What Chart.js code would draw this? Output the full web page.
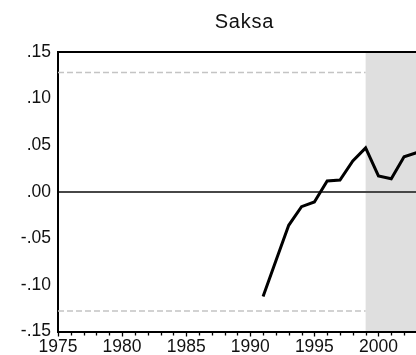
<!DOCTYPE html>
<html><head><meta charset="utf-8">
<script src="https://cdn.jsdelivr.net/npm/chart.js@4.4.0/dist/chart.umd.min.js"></script>
<style>
html,body{margin:0;padding:0;background:#fff;overflow:hidden;}
#wrap{position:relative;width:416px;height:355px;overflow:hidden;}
#title{position:absolute;left:0;top:10px;width:489px;text-align:center;font:20px 'Liberation Sans',Arial,sans-serif;letter-spacing:0.8px;color:#111;}
canvas{display:block}
</style></head><body>
<div id="wrap"><canvas id="c" width="416" height="355"></canvas><div id="title">Saksa</div></div>
<script>
// ---- data ----
const years  = [1991, 1992, 1993, 1994, 1995, 1996, 1997, 1998, 1999, 2000, 2001, 2002, 2003];
const values = [-0.1125, -0.074, -0.036, -0.016, -0.011, 0.0115, 0.0125, 0.033, 0.047, 0.017, 0.014, 0.0375, 0.042];
const bandYears  = [1975, 1999];
const upperBand  = [0.128, 0.128];
const lowerBand  = [-0.128, -0.128];
const shadeStart = 1999;
const xTickYears = [1975, 1980, 1985, 1990, 1995, 2000];
const yTicks      = [-0.15, -0.10, -0.05, 0, 0.05, 0.10, 0.15];
const yTickLabels = ['-.15', '-.10', '-.05', '.00', '.05', '.10', '.15'];
const xMin = 1975, xMax = 2002.93;

const tickFont = {family: "'Liberation Sans Narrow','Liberation Sans',Arial,sans-serif", size: 17.5};

const decor = {
  id: 'decor',
  beforeDraw(chart) {
    const {ctx, chartArea: a, scales: {x}} = chart;
    ctx.save();
    ctx.fillStyle = '#fff';
    ctx.fillRect(0, 0, chart.width, chart.height);
    const sx = x.getPixelForValue(shadeStart);
    ctx.fillStyle = '#dfdfdf';
    ctx.fillRect(sx, a.top, a.right - sx, a.bottom - a.top);
    ctx.restore();
  },
  afterDraw(chart) {
    const {ctx, chartArea: a, scales: {x}} = chart;
    ctx.save();
    // top frame
    ctx.strokeStyle = '#000';
    ctx.lineWidth = 2;
    ctx.beginPath();
    ctx.moveTo(a.left - 1, a.top);
    ctx.lineTo(a.right, a.top);
    ctx.stroke();
    // minor ticks
    ctx.lineWidth = 1.3;
    ctx.beginPath();
    for (let yr = Math.ceil(xMin); yr <= Math.floor(xMax); yr++) {
      if (yr % 5 === 0) continue;
      const px = Math.round(x.getPixelForValue(yr)) + 0.5;
      ctx.moveTo(px, a.bottom);
      ctx.lineTo(px, a.bottom + 4);
    }
    ctx.stroke();
    ctx.restore();
  }
};

new Chart(document.getElementById('c'), {
  type: 'line',
  data: {
    datasets: [
      {
        data: years.map((y, i) => ({x: y, y: values[i]})),
        borderColor: '#000', borderWidth: 3, pointRadius: 0,
        borderJoinStyle: 'miter', tension: 0, order: 0
      },
      {
        data: bandYears.map((y, i) => ({x: y, y: upperBand[i]})),
        borderColor: '#c4c4c4', borderWidth: 1.3, borderDash: [6, 3],
        pointRadius: 0, order: 1
      },
      {
        data: bandYears.map((y, i) => ({x: y, y: lowerBand[i]})),
        borderColor: '#c4c4c4', borderWidth: 1.3, borderDash: [6, 3],
        pointRadius: 0, order: 1
      }
    ]
  },
  options: {
    responsive: false,
    animation: false,
    devicePixelRatio: 1,
    layout: {padding: {top: 52, left: 0, right: 0, bottom: 0}},
    plugins: {legend: {display: false}, tooltip: {enabled: false}, title: {display: false}},
    scales: {
      x: {
        type: 'linear', min: xMin, max: xMax,
        afterBuildTicks: s => { s.ticks = xTickYears.map(v => ({value: v})); },
        afterFit: s => { s.height = 23.5; },
        ticks: {autoSkip: false, maxRotation: 0, padding: 0, color: '#111', font: tickFont,
                callback: v => String(v)},
        grid: {drawOnChartArea: false, drawTicks: true, tickLength: 5, tickColor: '#000', tickWidth: 1.3},
        border: {display: true, color: '#000', width: 2}
      },
      y: {
        type: 'linear', min: -0.15, max: 0.15,
        afterBuildTicks: s => { s.ticks = yTicks.map(v => ({value: v})); },
        afterFit: s => { s.width = 58; },
        ticks: {padding: 7, color: '#111', font: tickFont,
                callback: (v, i) => yTickLabels[i]},
        grid: {drawTicks: false, lineWidth: 2,
               color: c => (c.tick && Math.abs(c.tick.value) < 1e-9) ? '#474747' : 'rgba(0,0,0,0)'},
        border: {display: true, color: '#000', width: 2}
      }
    }
  },
  plugins: [decor]
});
</script>
</body></html>
